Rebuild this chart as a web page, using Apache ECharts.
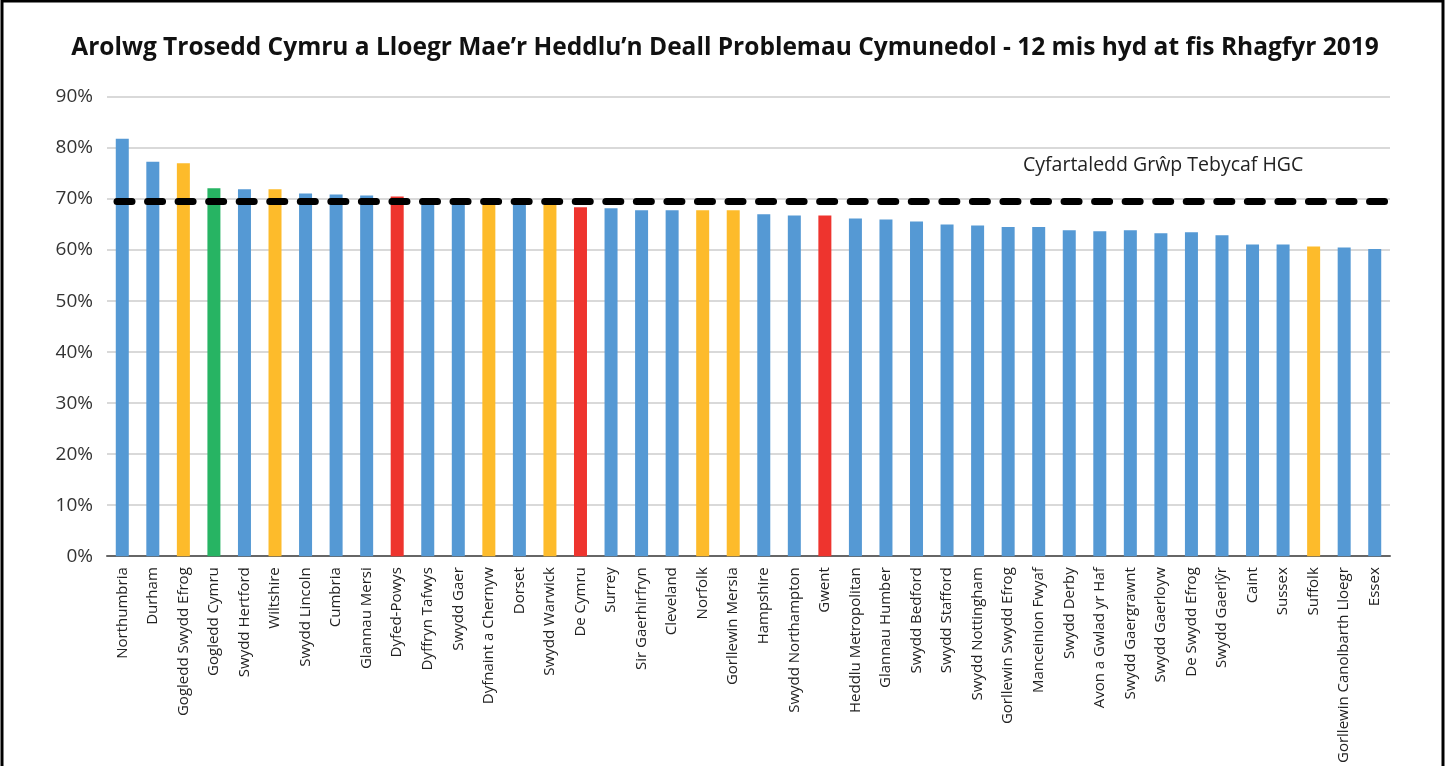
<!DOCTYPE html>
<html>
<head>
<meta charset="utf-8">
<script src="https://cdn.jsdelivr.net/npm/echarts@6/dist/echarts.min.js"></script>
<style>
  html, body { margin: 0; padding: 0; background: #fff; }
  #chart { width: 1450px; height: 766px; }
</style>
</head>
<body>
<div id="chart"></div>
<script>
// ardaloedd heddlu (categorïau)
var forces = [
  'Northumbria', 'Durham', 'Gogledd Swydd Efrog', 'Gogledd Cymru', 'Swydd Hertford',
  'Wiltshire', 'Swydd Lincoln', 'Cumbria', 'Glannau Mersi', 'Dyfed-Powys',
  'Dyffryn Tafwys', 'Swydd Gaer', 'Dyfnaint a Chernyw', 'Dorset', 'Swydd Warwick',
  'De Cymru', 'Surrey', 'Sir Gaerhirfryn', 'Cleveland', 'Norfolk',
  'Gorllewin Mersia', 'Hampshire', 'Swydd Northampton', 'Gwent', 'Heddlu Metropolitan',
  'Glannau Humber', 'Swydd Bedford', 'Swydd Stafford', 'Swydd Nottingham', 'Gorllewin Swydd Efrog',
  'Manceinion Fwyaf', 'Swydd Derby', 'Avon a Gwlad yr Haf', 'Swydd Gaergrawnt', 'Swydd Gaerloyw',
  'De Swydd Efrog', 'Swydd Gaerlŷr', 'Caint', 'Sussex', 'Suffolk',
  'Gorllewin Canolbarth Lloegr', 'Essex'
];
// canran
var values = [
  81.8, 77.3, 77.0, 72.1, 71.9,
  71.9, 71.1, 70.9, 70.7, 70.5,
  69.7, 69.6, 69.3, 69.1, 68.9,
  68.4, 68.2, 67.8, 67.8, 67.8,
  67.8, 67.0, 66.8, 66.8, 66.2,
  66.0, 65.6, 65.0, 64.8, 64.5,
  64.5, 63.9, 63.7, 63.9, 63.3,
  63.5, 62.9, 61.1, 61.1, 60.7,
  60.5, 60.2
];
// grŵp: 0 = arall, 1 = grŵp tebycaf, 2 = Gogledd Cymru, 3 = heddluoedd eraill Cymru
var groups = [
  0, 0, 1, 2, 0,
  1, 0, 0, 0, 3,
  0, 0, 1, 0, 1,
  3, 0, 0, 0, 1,
  1, 0, 0, 3, 0,
  0, 0, 0, 0, 0,
  0, 0, 0, 0, 0,
  0, 0, 0, 0, 1,
  0, 0
];
var groupColors = ['#5599D4', '#FDBB2B', '#27B463', '#EE342E'];
var msgAverage = 69.5;
var yTicks = [0, 10, 20, 30, 40, 50, 60, 70, 80, 90];

var chart = echarts.init(document.getElementById('chart'));

var barData = values.map(function (v, i) {
  return { value: v, itemStyle: { color: groupColors[groups[i]] } };
});

var option = {
  backgroundColor: '#fff',
  animation: false,
  textStyle: { fontFamily: 'Open Sans' },
  title: [
    {
      text: 'Arolwg Trosedd Cymru a Lloegr Mae’r Heddlu’n Deall Problemau Cymunedol - 12 mis hyd at fis Rhagfyr 2019',
      left: 'center',
      top: 31,
      textStyle: { fontFamily: 'Open Sans', fontWeight: 'bold', fontSize: 24.5, color: '#111' }
    },
    {
      text: 'Cyfartaledd Grŵp Tebycaf HGC',
      left: 1018,
      top: 150,
      textStyle: { fontFamily: 'Open Sans', fontWeight: 'normal', fontSize: 19.5, color: '#222' }
    }
  ],
  graphic: [
    {
      type: 'rect',
      shape: { x: 2, y: 1, width: 1441, height: 820 },
      style: { fill: 'none', stroke: '#000', lineWidth: 3 },
      silent: true
    }
  ],
  grid: { left: 107, right: 60, top: 97, bottom: 207 },
  xAxis: {
    type: 'category',
    data: forces,
    axisLine: { lineStyle: { color: '#666', width: 2 } },
    axisTick: { show: false },
    axisLabel: {
      rotate: 90,
      interval: 0,
      margin: 11,
      fontSize: 15,
      color: '#222',
      fontFamily: 'Open Sans'
    }
  },
  yAxis: {
    type: 'value',
    min: 0,
    max: 90,
    interval: 10,
    axisLine: { show: false },
    axisTick: { show: false },
    splitLine: { lineStyle: { color: '#d9d9d9', width: 2 } },
    axisLabel: {
      margin: 14,
      fontSize: 19,
      color: '#333',
      fontFamily: 'Open Sans',
      formatter: function (v) { return yTicks.indexOf(v) >= 0 ? v + '%' : ''; }
    }
  },
  series: [
    {
      type: 'bar',
      data: barData,
      barWidth: 13,
      markLine: {
        silent: true,
        symbol: 'none',
        label: { show: false },
        lineStyle: {
          color: '#000',
          width: 7,
          type: [15, 15.55],
          cap: 'round',
          dashOffset: -10
        },
        data: [{ yAxis: msgAverage }]
      }
    }
  ]
};

chart.setOption(option);
</script>
</body>
</html>
